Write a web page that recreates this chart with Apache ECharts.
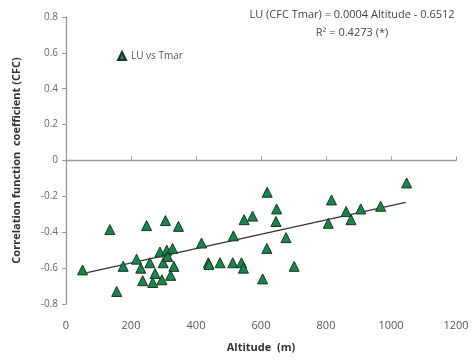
<!DOCTYPE html>
<html><head><meta charset="utf-8">
<script src="https://cdn.jsdelivr.net/npm/echarts@6/dist/echarts.min.js"></script>
<style>html,body{margin:0;padding:0;background:#fff}#c{width:474px;height:364px}</style>
</head><body><div id="c"></div>
<script>
var altitude = [51,135,156,176,217,230,236,248,258,267,274,289,295,306,299,310,313,322,328,332,346,417,438,440,474,513,515,540,546,548,574,619,648,646,677,618,605,702,817,807,862,877,907,968,1048];
var cfc = [-0.61,-0.385,-0.73,-0.59,-0.55,-0.60,-0.67,-0.363,-0.57,-0.68,-0.63,-0.51,-0.665,-0.335,-0.57,-0.50,-0.535,-0.64,-0.49,-0.59,-0.367,-0.46,-0.57,-0.58,-0.57,-0.57,-0.42,-0.57,-0.60,-0.33,-0.31,-0.177,-0.27,-0.34,-0.43,-0.49,-0.66,-0.59,-0.22,-0.35,-0.285,-0.33,-0.27,-0.255,-0.125];
var trendSlope = 0.0004, trendIntercept = -0.6512;
var trendX = [65, 1045];
var xTicks = [0, 200, 400, 600, 800, 1000, 1200];
var yTicks = [-0.8, -0.6, -0.4, -0.2, 0, 0.2, 0.4, 0.6, 0.8];
var seriesName = 'LU vs Tmar';
var eqLine1 = 'LU (CFC Tmar) = 0.0004 Altitude - 0.6512';
var eqLine2 = 'R\u00B2 = 0.4273 (*)';

var pts = altitude.map(function(a, i){ return [a, cfc[i]]; });
var trend = trendX.map(function(x){ return [x, trendSlope * x + trendIntercept]; });

var chart = echarts.init(document.getElementById('c'));
chart.setOption({
  animation: false,
  grid: {left: 66, right: 18, top: 17, bottom: 60},
  legend: {
    data: [{name: seriesName, icon: 'triangle'}],
    left: 112, top: 46, itemWidth: 8, itemHeight: 8, itemGap: 3,
    textStyle: {fontFamily: 'Open Sans', fontSize: 10, color: '#555'}
  },
  graphic: [
    {type: 'text', x: 352, y: 9, style: {text: eqLine1, textAlign: 'center', fill: '#444', font: '11px "Open Sans"'}},
    {type: 'text', x: 352, y: 27, style: {text: eqLine2, textAlign: 'center', fill: '#444', font: '11px "Open Sans"'}}
  ],
  xAxis: [{
    type: 'value', min: xTicks[0], max: xTicks[xTicks.length-1], interval: 200, position: 'bottom',
    axisLine: {show: false, onZero: false}, axisTick: {show: false}, splitLine: {show: false},
    axisLabel: {margin: 16, color: '#555', fontFamily: 'Open Sans', fontSize: 11,
      formatter: function(v){ return String(v); }},
    name: 'Altitude  (m)', nameLocation: 'middle', nameGap: 38,
    nameTextStyle: {fontFamily: 'Open Sans', fontWeight: 'bold', fontSize: 11, color: '#333'}
  }, {
    type: 'value', min: xTicks[0], max: xTicks[xTicks.length-1], interval: 200, position: 'bottom',
    axisLine: {show: true, onZero: true, lineStyle: {color: '#999', width: 1.3}},
    axisTick: {show: true, inside: true, length: 4, lineStyle: {color: '#999'}},
    axisLabel: {show: false}, splitLine: {show: false}
  }],
  yAxis: {
    type: 'value', min: yTicks[0], max: yTicks[yTicks.length-1], interval: 0.2,
    axisLine: {show: true, onZero: false, lineStyle: {color: '#999', width: 1.3}},
    axisTick: {show: true, length: 4, lineStyle: {color: '#999'}},
    splitLine: {show: false},
    axisLabel: {margin: 8, color: '#666', fontFamily: 'Open Sans', fontSize: 10,
      formatter: function(v){ return Math.abs(v) < 1e-9 ? '0' : v.toFixed(1); }},
    name: 'Correlation function  coefficient (CFC)', nameLocation: 'middle', nameGap: 44,
    nameTextStyle: {fontFamily: 'Open Sans', fontWeight: 'bold', fontSize: 11, color: '#333'}
  },
  series: [{
    name: seriesName, type: 'scatter', data: pts, symbol: 'triangle', symbolSize: 10,
    itemStyle: {color: '#17864a', borderColor: '#1c3326', borderWidth: 1, opacity: 1}, z: 3
  }, {
    name: 'trend', type: 'line', data: trend, symbol: 'none', silent: true,
    lineStyle: {color: '#333', width: 1.3}, z: 2
  }]
});
</script></body></html>
